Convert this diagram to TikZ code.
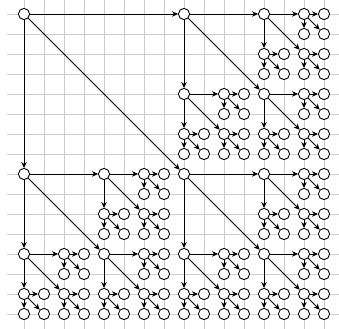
\documentclass[tikz,border=0pt]{standalone}
\usepackage{tikz}
\usetikzlibrary{arrows.meta}
% one block: node (#1,#2) sends arrows to its three partners #3 away, then halves
\newcommand{\subtree}[3]{%
  \ifnum#3>0\relax
    \foreach \dx/\dy in {1/0,0/1,1/1}{
      \pgfmathtruncatemacro{\cx}{#1+\dx*#3}
      \pgfmathtruncatemacro{\cy}{#2+\dy*#3}
      \pgfmathtruncatemacro{\hs}{#3/2}
      \node[vert] (v\cx-\cy) at (\cx,-\cy) {};
      \draw[edge] (v#1-#2) -- (v\cx-\cy);
      \edef\nextblock{\noexpand\subtree{\cx}{\cy}{\hs}}\nextblock
    }
  \fi}
\begin{document}
\begin{tikzpicture}[scale=0.5,
  vert/.style={circle, draw, fill=white, line width=0.65pt, minimum size=2.8mm, inner sep=0pt},
  edge/.style={line width=0.65pt, -{Stealth[length=1.5mm, width=1.4mm]}}]
\useasboundingbox (-1.2,0.7) rectangle (15.75,-15.75);
% background grid
\draw[gray!40, line width=0.6pt] (-0.85,0.7) grid (15.75,-15.75);
% root and its blocks of 8, 4, 2, 1
\node[vert] (v0-0) at (0,0) {};
\subtree{0}{0}{8}
\end{tikzpicture}
\end{document}
